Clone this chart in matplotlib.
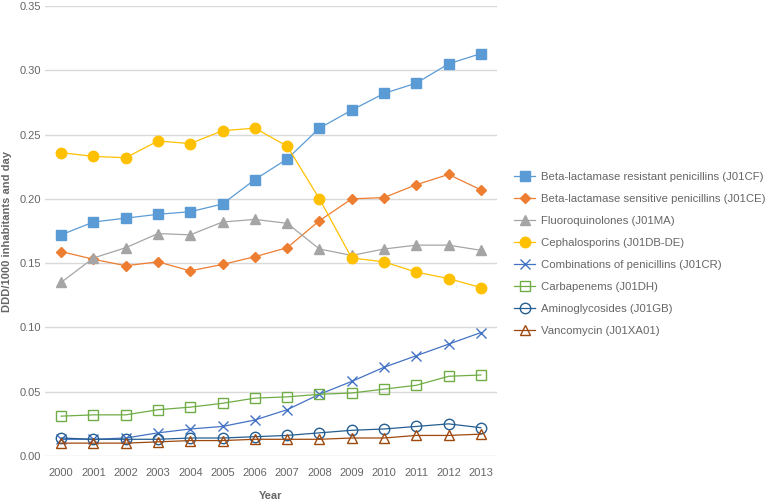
import matplotlib
matplotlib.use("Agg")
import matplotlib.pyplot as plt

# -----------------------------
# Data
# -----------------------------
years = list(range(2000, 2014))

j01cf = [0.172, 0.182, 0.185, 0.188, 0.190, 0.196, 0.215, 0.231, 0.255, 0.269, 0.282, 0.290, 0.305, 0.313]
j01ce = [0.159, 0.153, 0.148, 0.151, 0.144, 0.149, 0.155, 0.162, 0.183, 0.200, 0.201, 0.211, 0.219, 0.207]
j01ma = [0.135, 0.154, 0.162, 0.173, 0.172, 0.182, 0.184, 0.181, 0.161, 0.156, 0.161, 0.164, 0.164, 0.160]
j01db = [0.236, 0.233, 0.232, 0.245, 0.243, 0.253, 0.255, 0.241, 0.200, 0.154, 0.151, 0.143, 0.138, 0.131]
j01cr = [0.013, 0.013, 0.014, 0.018, 0.021, 0.023, 0.028, 0.036, 0.048, 0.058, 0.069, 0.078, 0.087, 0.096]
j01dh = [0.031, 0.032, 0.032, 0.036, 0.038, 0.041, 0.045, 0.046, 0.048, 0.049, 0.052, 0.055, 0.062, 0.063]
j01gb = [0.014, 0.013, 0.013, 0.013, 0.014, 0.014, 0.015, 0.016, 0.018, 0.020, 0.021, 0.023, 0.025, 0.022]
j01xa = [0.010, 0.010, 0.010, 0.011, 0.012, 0.012, 0.013, 0.013, 0.013, 0.014, 0.014, 0.016, 0.016, 0.017]

labels = [
    "Beta-lactamase resistant penicillins (J01CF)",
    "Beta-lactamase sensitive penicillins (J01CE)",
    "Fluoroquinolones (J01MA)",
    "Cephalosporins (J01DB-DE)",
    "Combinations of penicillins (J01CR)",
    "Carbapenems (J01DH)",
    "Aminoglycosides (J01GB)",
    "Vancomycin (J01XA01)",
]

# -----------------------------
# Styles
# -----------------------------
series = [j01cf, j01ce, j01ma, j01db, j01cr, j01dh, j01gb, j01xa]
colors = ["#5B9BD5", "#ED7D31", "#A5A5A5", "#FFC000", "#4472C4", "#70AD47", "#255E91", "#9E480E"]
markers = ["s", "D", "^", "o", "x", "s", "o", "^"]
sizes = [7, 5, 7, 7.5, 7, 7, 7.5, 7.5]
filled = [True, True, True, True, True, False, False, False]

plt.rcParams["font.family"] = ["Liberation Sans", "DejaVu Sans"]
text_col = "#666666"
fs = 8

fig = plt.figure(figsize=(7.67, 5.01), dpi=100)
ax = fig.add_axes([45 / 767, 45 / 501, 452 / 767, 450 / 501])

for vals, c, m, s, f, lab in zip(series, colors, markers, sizes, filled, labels):
    ax.plot(years, vals, color=c, marker=m, markersize=s, linewidth=0.9,
            markerfacecolor=c if f else "none", markeredgecolor=c,
            markeredgewidth=1.0, label=lab, zorder=3)

ax.set_xlim(1999.5, 2013.5)
ax.set_ylim(0, 0.35)
ax.set_xticks(years)
ax.set_yticks([0.0, 0.05, 0.10, 0.15, 0.20, 0.25, 0.30, 0.35])
ax.yaxis.set_major_formatter(matplotlib.ticker.FormatStrFormatter("%.2f"))
ax.grid(axis="y", color="#D9D9D9", linewidth=1.0)
ax.set_axisbelow(True)
for sp in ax.spines.values():
    sp.set_visible(False)
ax.tick_params(axis="y", length=0, labelsize=fs, colors=text_col, pad=3)
ax.tick_params(axis="x", length=0, labelsize=fs, colors=text_col, pad=9)

ax.set_xlabel("Year", fontsize=fs, fontweight="bold", color=text_col, labelpad=9)
ax.set_ylabel("DDD/1000 inhabitants and day", fontsize=fs, fontweight="bold", color=text_col, labelpad=5)

leg = fig.legend(loc="upper left", bbox_to_anchor=(514 / 767, 1 - 172 / 501),
                 frameon=False, prop={"size": 8.2}, handlelength=1.85, handletextpad=0.5,
                 labelspacing=1.05, borderaxespad=0, borderpad=0)
for t in leg.get_texts():
    t.set_color(text_col)

plt.savefig("out.png", dpi=100)
plt.close()
